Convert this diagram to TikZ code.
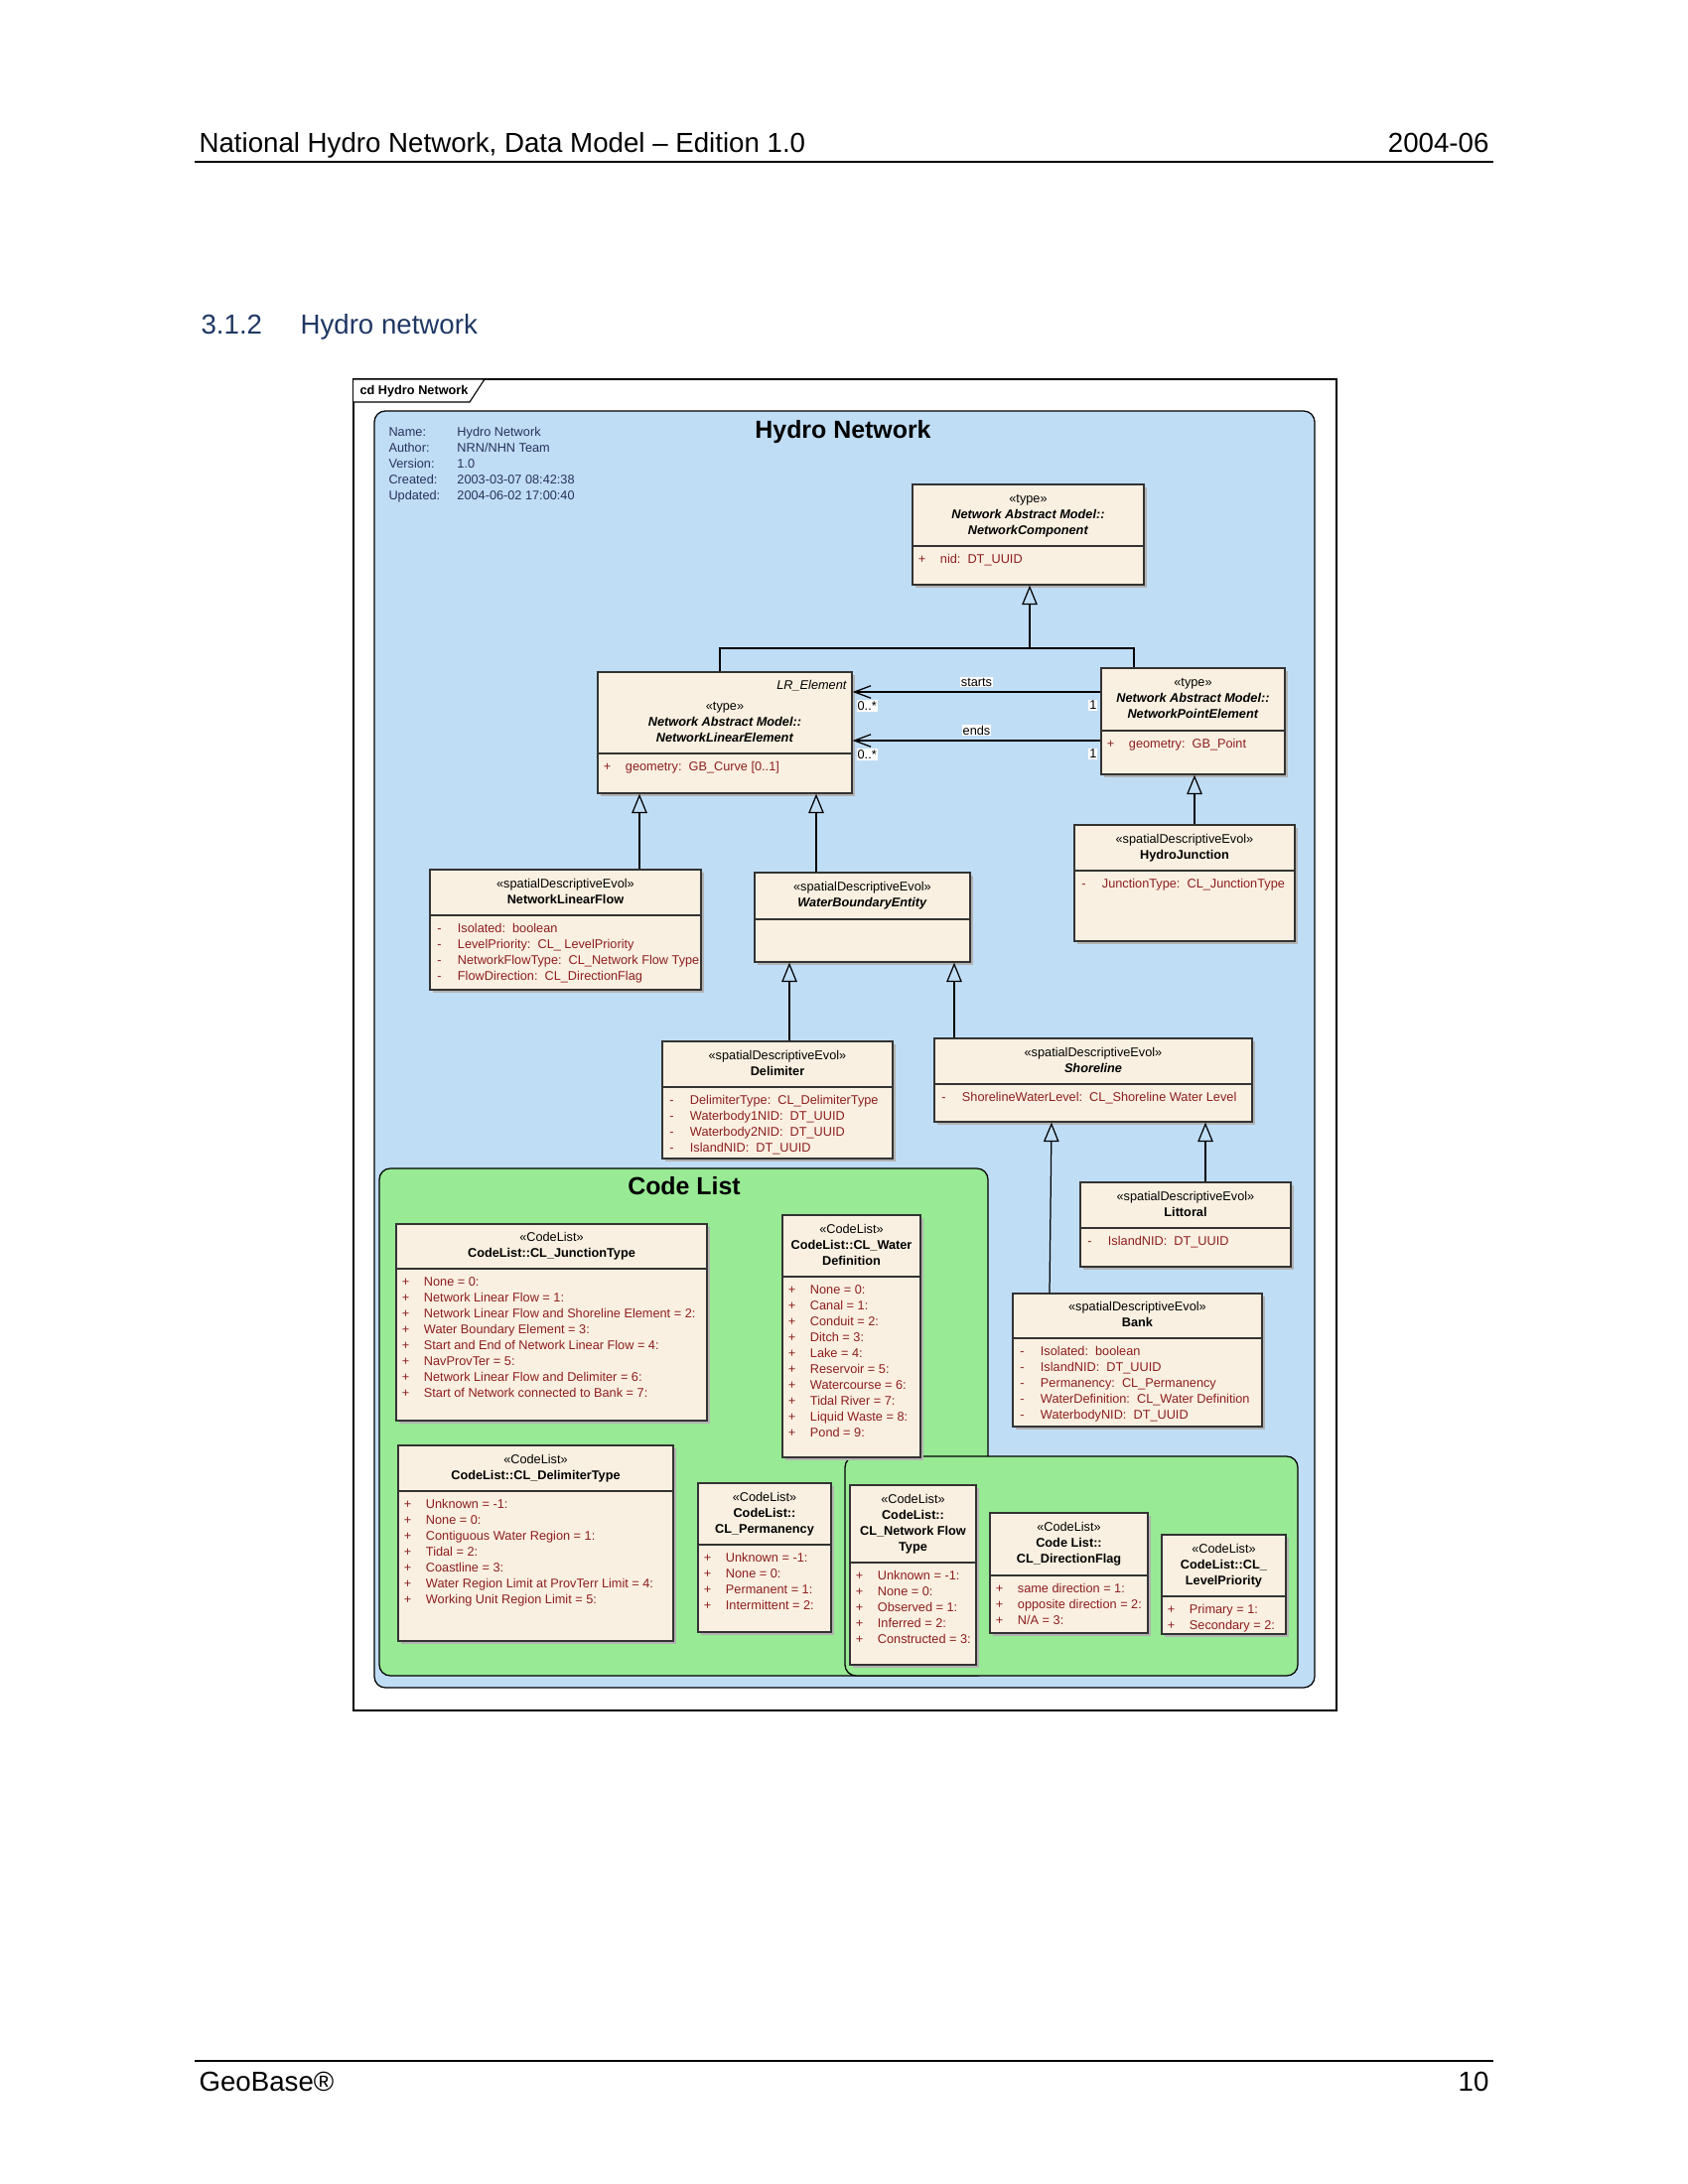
\documentclass[tikz,border=0pt]{standalone}
\usepackage{fontspec}
\setmainfont{Liberation Sans}
\usetikzlibrary{arrows.meta,fit,positioning}
\definecolor{hydroblue}{RGB}{192,221,246}
\definecolor{codegreen}{RGB}{152,234,148}
\definecolor{classfill}{RGB}{250,240,225}
\definecolor{attrred}{RGB}{140,30,30}
\definecolor{infoblue}{RGB}{40,50,90}
\definecolor{headblue}{RGB}{31,56,100}
\newcommand{\diagfont}{\fontsize{4.6}{5.78}\selectfont}
\newcommand{\vis}[1]{\makebox[9.9pt][l]{\makebox[6.5pt]{#1}}}
\tikzset{font=\diagfont}
\tikzset{
  pagetext/.style={font=\fontsize{10}{12}\selectfont, inner sep=0pt},
  classbox/.style={draw=black!80, fill=classfill, line width=0.5pt, inner sep=0pt},
  boxshadow/.style={fill=black!30},
  classhead/.style={inner sep=0pt, font=\diagfont},
  classattr/.style={inner sep=0pt, anchor=north west, font=\diagfont, text=attrred},
  genline/.style={line width=0.45pt, -{Triangle[open,length=7pt,width=5.6pt]}},
  assoc/.style={line width=0.45pt, -{Straight Barb[length=6pt,width=4.5pt]}},
  lab/.style={font=\diagfont, fill=white, inner sep=0.4pt},
  package/.style={draw=black, line width=0.45pt, rounded corners=4pt},
}
% class box: [header shift]{name}{x1}{y1}{x2}{y2}{separator}{header}{attributes}
\newcommand{\umlclass}[9][0]{%
  \fill[boxshadow] (#3+3,#4+3) rectangle (#5+3,#6+3);
  \node[classbox, fit={(#3,#4) (#5,#6)}] (#2) {};
  \draw[line width=0.5pt, draw=black!80] (#3,#7) -- (#5,#7);
  \node[classhead] (#2-head) at ({(#3+#5)/2},{(#4+#7)/2+#1}) {\begin{tabular}{@{}c@{}}#8\end{tabular}};
  \node[classattr] (#2-attr) at (#3,#7+6) {\begin{tabular}{@{}l@{}}#9\end{tabular}};
}

\begin{document}
\begin{tikzpicture}[x=0.127mm,y=-0.127mm]
\useasboundingbox (0,0) rectangle (1700,2200);

% page header and footer
\node[pagetext, anchor=base west] (doctitle) at (200,153) {National Hydro Network, Data Model – Edition 1.0};
\node[pagetext, anchor=base east] (docdate) at (1500,153) {2004-06};
\draw[line width=0.5pt] (196,163) -- (1504,163);
\node[pagetext, anchor=base west, text=headblue] (secnum) at (202,336) {3.1.2};
\node[pagetext, anchor=base west, text=headblue] (sectitle) at (302,336) {Hydro network};
\draw[line width=0.5pt] (196,2076) -- (1504,2076);
\node[pagetext, anchor=base west] (footname) at (200,2106) {GeoBase®};
\node[pagetext, anchor=base east] (pagenum) at (1500,2106) {10};

% diagram frame
\draw[line width=0.4pt] (356,382) rectangle (1346,1723);
\draw[line width=0.4pt, fill=white] (356,382) -- (488,382) -- (473,405) -- (356,405);
\node[anchor=base west, font=\diagfont\bfseries, inner sep=0pt] (frametab) at (362,397) {cd Hydro Network};

% packages
\draw[package, fill=hydroblue] (377,414) rectangle (1324,1700);
\draw[package, fill=codegreen] (382,1177) rectangle (995,1688);
\draw[package, fill=codegreen] (851,1467) rectangle (1307,1688);
\node[anchor=base, font=\fontsize{9}{11}\selectfont\bfseries, inner sep=0pt] (hntitle) at (849,441) {Hydro Network};
\node[anchor=base, font=\fontsize{9}{11}\selectfont\bfseries, inner sep=0pt] (cltitle) at (689,1203) {Code List};
\node[anchor=north west, inner sep=0pt, text=infoblue] (info) at (391,427.5) {\begin{tabular}{@{}l@{}}
  \makebox[24.9pt][l]{Name:}Hydro Network\\
  \makebox[24.9pt][l]{Author:}NRN/NHN Team\\
  \makebox[24.9pt][l]{Version:}1.0\\
  \makebox[24.9pt][l]{Created:}2003-03-07 08:42:38\\
  \makebox[24.9pt][l]{Updated:}2004-06-02 17:00:40\end{tabular}};

% classes
\umlclass{nc}{919}{488}{1152}{589}{550}{«type»\\ \textbf{\textit{Network Abstract Model::}}\\ \textbf{\textit{NetworkComponent}}}{\vis{+}nid:~~DT\_UUID}
\umlclass{npe}{1109}{673}{1294}{780}{736}{«type»\\ \textbf{\textit{Network Abstract Model::}}\\ \textbf{\textit{NetworkPointElement}}}{\vis{+}geometry:~~GB\_Point}
\umlclass[10]{nle}{602}{677}{858}{799}{759}{«type»\\ \textbf{\textit{Network Abstract Model::}}\\ \textbf{\textit{NetworkLinearElement}}}{\vis{+}geometry:~~GB\_Curve [0..1]}
\node[classhead, anchor=east, font=\diagfont\itshape] (nle-tag) at (853,691) {LR\_Element};
\umlclass{nlf}{433}{876}{706}{997}{922}{«spatialDescriptiveEvol»\\ \textbf{NetworkLinearFlow}}{\vis{-}Isolated:~~boolean\\ \vis{-}LevelPriority:~~CL\_ LevelPriority\\ \vis{-}NetworkFlowType:~~CL\_Network Flow Type\\ \vis{-}FlowDirection:~~CL\_DirectionFlag}
\umlclass{wbe}{760}{879}{977}{969}{926}{«spatialDescriptiveEvol»\\ \textbf{\textit{WaterBoundaryEntity}}}{}
\umlclass{hj}{1082}{831}{1304}{948}{877}{«spatialDescriptiveEvol»\\ \textbf{HydroJunction}}{\vis{-}JunctionType:~~CL\_JunctionType}
\umlclass{delim}{667}{1049}{899}{1167}{1095}{«spatialDescriptiveEvol»\\ \textbf{Delimiter}}{\vis{-}DelimiterType:~~CL\_DelimiterType\\ \vis{-}Waterbody1NID:~~DT\_UUID\\ \vis{-}Waterbody2NID:~~DT\_UUID\\ \vis{-}IslandNID:~~DT\_UUID}
\umlclass{shore}{941}{1046}{1261}{1130}{1092}{«spatialDescriptiveEvol»\\ \textbf{\textit{Shoreline}}}{\vis{-}ShorelineWaterLevel:~~CL\_Shoreline Water Level}
\umlclass{litt}{1088}{1191}{1300}{1276}{1237}{«spatialDescriptiveEvol»\\ \textbf{Littoral}}{\vis{-}IslandNID:~~DT\_UUID}
\umlclass{bank}{1020}{1303}{1271}{1437}{1348}{«spatialDescriptiveEvol»\\ \textbf{Bank}}{\vis{-}Isolated:~~boolean\\ \vis{-}IslandNID:~~DT\_UUID\\ \vis{-}Permanency:~~CL\_Permanency\\ \vis{-}WaterDefinition:~~CL\_Water Definition\\ \vis{-}WaterbodyNID:~~DT\_UUID}

% code lists
\umlclass{jt}{399}{1233}{712}{1431}{1278}{«CodeList»\\ \textbf{CodeList::CL\_JunctionType}}{\vis{+}None = 0:\\ \vis{+}Network Linear Flow = 1:\\ \vis{+}Network Linear Flow and Shoreline Element = 2:\\ \vis{+}Water Boundary Element = 3:\\ \vis{+}Start and End of Network Linear Flow = 4:\\ \vis{+}NavProvTer = 5:\\ \vis{+}Network Linear Flow and Delimiter = 6:\\ \vis{+}Start of Network connected to Bank = 7:}
\umlclass{wd}{788}{1224}{927}{1468}{1286}{«CodeList»\\ \textbf{CodeList::CL\_Water}\\ \textbf{Definition}}{\vis{+}None = 0:\\ \vis{+}Canal = 1:\\ \vis{+}Conduit = 2:\\ \vis{+}Ditch = 3:\\ \vis{+}Lake = 4:\\ \vis{+}Reservoir = 5:\\ \vis{+}Watercourse = 6:\\ \vis{+}Tidal River = 7:\\ \vis{+}Liquid Waste = 8:\\ \vis{+}Pond = 9:}
\umlclass{dt}{401}{1456}{678}{1653}{1502}{«CodeList»\\ \textbf{CodeList::CL\_DelimiterType}}{\vis{+}Unknown = -1:\\ \vis{+}None = 0:\\ \vis{+}Contiguous Water Region = 1:\\ \vis{+}Tidal = 2:\\ \vis{+}Coastline = 3:\\ \vis{+}Water Region Limit at ProvTerr Limit = 4:\\ \vis{+}Working Unit Region Limit = 5:}
\umlclass{perm}{703}{1494}{837}{1644}{1556}{«CodeList»\\ \textbf{CodeList::}\\ \textbf{CL\_Permanency}}{\vis{+}Unknown = -1:\\ \vis{+}None = 0:\\ \vis{+}Permanent = 1:\\ \vis{+}Intermittent = 2:}
\umlclass{nft}{856}{1496}{983}{1677}{1574}{«CodeList»\\ \textbf{CodeList::}\\ \textbf{CL\_Network Flow}\\ \textbf{Type}}{\vis{+}Unknown = -1:\\ \vis{+}None = 0:\\ \vis{+}Observed = 1:\\ \vis{+}Inferred = 2:\\ \vis{+}Constructed = 3:}
\umlclass{df}{997}{1524}{1156}{1645}{1587}{«CodeList»\\ \textbf{Code List::}\\ \textbf{CL\_DirectionFlag}}{\vis{+}same direction = 1:\\ \vis{+}opposite direction = 2:\\ \vis{+}N/A = 3:}
\umlclass{lp}{1170}{1546}{1295}{1646}{1608}{«CodeList»\\ \textbf{CodeList::CL\_}\\ \textbf{LevelPriority}}{\vis{+}Primary = 1:\\ \vis{+}Secondary = 2:}

% generalizations
\coordinate (genjoin) at (1037,653);
\draw[genline] (genjoin) -- (1037,0 |- nc.south);
\draw[line width=0.45pt] (725,0 |- nle.north) |- (1142,0 |- genjoin) -- (1142,0 |- npe.north);
\draw[genline] (644,0 |- nlf.north) -- (644,0 |- nle.south);
\draw[genline] (822,0 |- wbe.north) -- (822,0 |- nle.south);
\draw[genline] (1203,0 |- hj.north) -- (1203,0 |- npe.south);
\draw[genline] (795,0 |- delim.north) -- (795,0 |- wbe.south);
\draw[genline] (961,0 |- shore.north) -- (961,0 |- wbe.south);
\draw[genline] (1214,0 |- litt.north) -- (1214,0 |- shore.south);
\draw[genline] (1057,0 |- bank.north) -- (1059,0 |- shore.south);

% associations
\draw[assoc] (npe.west |- 0,697) -- (nle.east |- 0,697) node[lab, midway, above=1.5pt] (startslab) {starts};
\draw[assoc] (npe.west |- 0,746) -- (nle.east |- 0,746) node[lab, midway, above=1.5pt] (endslab) {ends};
\node[lab, anchor=west] (startsmany) at (862,711) {0..*};
\node[lab, anchor=east] (startsone) at (1106,710) {1};
\node[lab, anchor=west] (endsmany) at (862,760) {0..*};
\node[lab, anchor=east] (endsone) at (1106,759) {1};

\end{tikzpicture}
\end{document}
